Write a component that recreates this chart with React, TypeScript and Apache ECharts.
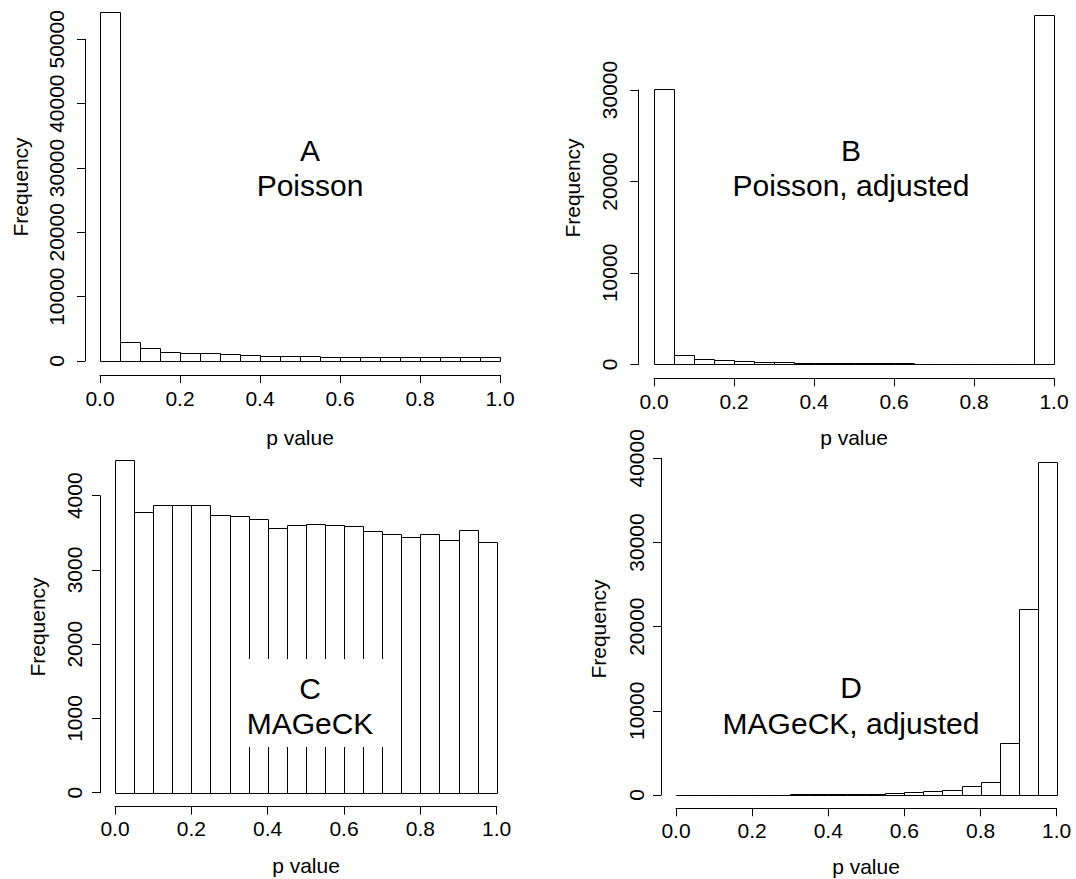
import React, { useEffect, useRef } from "react";
import * as echarts from "echarts";

// Histogram bin edges (p value)
const binEdges = [0, 0.05, 0.1, 0.15, 0.2, 0.25, 0.3, 0.35, 0.4, 0.45, 0.5, 0.55, 0.6, 0.65, 0.7, 0.75, 0.8, 0.85, 0.9, 0.95, 1.0];

// Panel A: Poisson
const poissonCounts = [54230, 3000, 1970, 1450, 1300, 1300, 1040, 880, 830, 780, 720, 680, 680, 630, 680, 640, 580, 580, 690, 580];
// Panel B: Poisson, adjusted
const poissonAdjCounts = [30070, 1040, 620, 420, 310, 240, 240, 180, 180, 150, 110, 110, 110, 80, 70, 70, 60, 50, 50, 38250];
// Panel C: MAGeCK
const mageckCounts = [4481, 3776, 3870, 3879, 3875, 3744, 3722, 3686, 3560, 3600, 3614, 3600, 3587, 3529, 3488, 3439, 3479, 3398, 3533, 3381];
// Panel D: MAGeCK, adjusted
const mageckAdjCounts = [50, 40, 50, 40, 50, 40, 80, 120, 120, 160, 160, 280, 400, 420, 570, 1090, 1500, 6140, 22050, 39510];

const panelLetters = ["A", "B", "C", "D"];
const panelNames = ["Poisson", "Poisson, adjusted", "MAGeCK", "MAGeCK, adjusted"];
const yMaxTicks = [50000, 30000, 4000, 40000];
const yIntervals = [10000, 10000, 1000, 10000];
const xTitle = "p value";
const yTitle = "Frequency";

const FONT = "'Liberation Sans', Arial, Helvetica, sans-serif";

export default function App() {
  const ref = useRef<HTMLDivElement>(null);

  useEffect(() => {
    document.body.style.margin = "0";
    document.body.style.overflow = "hidden";
    if (!ref.current) return;
    const chart = echarts.init(ref.current, undefined, { renderer: "svg" });

    const allCounts = [poissonCounts, poissonAdjCounts, mageckCounts, mageckAdjCounts];

    const grids = [
      { left: 100, top: 39.3, width: 400, height: 321.7 },
      { left: 654, top: 90, width: 400, height: 274.3 },
      { left: 115, top: 495.7, width: 381.7, height: 297 },
      { left: 676, top: 458.3, width: 380.7, height: 336.7 },
    ];
    const yOffsets = [15, 15.7, 15, 15];
    const xOffsets = [14, 14, 14, 13.3];
    const yLabelMargins = [18.5, 18.5, 15, 14.5];
    const xLabelMargins = [13, 13, 11, 12];

    const xAxes = grids.map((_, i) => ({
      type: "value",
      gridIndex: i,
      min: 0,
      max: 1,
      interval: 0.2,
      offset: xOffsets[i],
      axisLine: { show: true, onZero: false, lineStyle: { color: "#000", width: 1 } },
      axisTick: { show: true, inside: false, length: 8, lineStyle: { color: "#000", width: 1 } },
      axisLabel: {
        show: true,
        margin: xLabelMargins[i],
        fontSize: 21,
        color: "#000",
        fontFamily: FONT,
        formatter: (v: number) => v.toFixed(1),
      },
      splitLine: { show: false },
    }));

    const yAxes = grids.map((_, i) => ({
      type: "value",
      gridIndex: i,
      min: 0,
      max: yMaxTicks[i],
      interval: yIntervals[i],
      offset: yOffsets[i],
      axisLine: { show: true, onZero: false, lineStyle: { color: "#000", width: 1 } },
      axisTick: { show: true, inside: false, length: 8, lineStyle: { color: "#000", width: 1 } },
      axisLabel: {
        show: true,
        rotate: 90,
        margin: yLabelMargins[i],
        fontSize: 21,
        color: "#000",
        fontFamily: FONT,
        formatter: (v: number) => String(v),
      },
      splitLine: { show: false },
    }));

    const series = allCounts.map((counts, i) => ({
      type: "custom",
      xAxisIndex: i,
      yAxisIndex: i,
      clip: false,
      data: counts.map((c, k) => [binEdges[k], binEdges[k + 1], c]),
      encode: { x: [0, 1], y: 2 },
      renderItem: (params: any, api: any) => {
        const p0 = api.coord([api.value(0), 0]);
        const p1 = api.coord([api.value(1), api.value(2)]);
        const x0 = Math.round(p0[0]) + 0.5;
        const x1 = Math.round(p1[0]) + 0.5;
        const yb = Math.round(p0[1]) + 0.5;
        const yt = Math.round(p1[1]) + 0.5;
        return {
          type: "rect",
          shape: { x: x0, y: yt, width: x1 - x0, height: yb - yt },
          style: { fill: "#fff", stroke: "#000", lineWidth: 1 },
        };
      },
    }));

    const txt = (text: string, x: number, y: number, size: number, rotation = 0) => ({
      type: "text",
      x,
      y,
      rotation,
      z: 100,
      style: {
        text,
        fill: "#000",
        font: `${size}px ${FONT}`,
        textAlign: "center",
        textVerticalAlign: "middle",
      },
    });

    const centers = [
      [310, 150, 185],
      [851, 150, 185],
      [310, 688, 723],
      [851, 687, 723],
    ];
    const xTitlePos = [
      [300, 437],
      [854, 437],
      [306, 865],
      [866, 866],
    ];
    const yTitlePos = [
      [20, 187],
      [572.5, 188],
      [37.5, 627],
      [598.3, 629],
    ];

    const graphics: any[] = [
      {
        type: "rect",
        z: 99,
        shape: { x: 236, y: 659, width: 154, height: 88 },
        style: { fill: "#fff" },
      },
    ];
    for (let i = 0; i < 4; i++) {
      graphics.push(txt(panelLetters[i], centers[i][0], centers[i][1], 30));
      graphics.push(txt(panelNames[i], centers[i][0], centers[i][2], 30));
      graphics.push(txt(xTitle, xTitlePos[i][0], xTitlePos[i][1], 21));
      graphics.push(txt(yTitle, yTitlePos[i][0], yTitlePos[i][1], 21, Math.PI / 2));
    }

    chart.setOption({
      animation: false,
      backgroundColor: "#fff",
      grid: grids.map((g) => ({ ...g, containLabel: false })),
      xAxis: xAxes,
      yAxis: yAxes,
      series,
      graphic: graphics,
    });

    return () => chart.dispose();
  }, []);

  return <div ref={ref} style={{ width: 1076, height: 879, position: "absolute", left: 0, top: 0 }} />;
}
